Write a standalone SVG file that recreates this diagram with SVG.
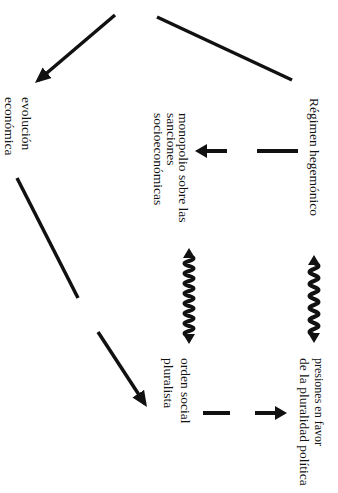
<svg xmlns="http://www.w3.org/2000/svg" width="338" height="493" viewBox="0 0 338 493">
<style>
.t{font-family:"Liberation Serif","Times New Roman",serif;font-size:13.5px;fill:#111}
.ln{stroke:#111;stroke-width:3.5;fill:none}
.dl{stroke:#111;stroke-width:4;fill:none}
.wv{stroke:#111;stroke-width:4;fill:none;stroke-linejoin:round}
.hd{fill:#111}
</style>
<defs>
<marker id="ah" viewBox="0 0 16 14" refX="12" refY="7" markerWidth="16" markerHeight="14" orient="auto" markerUnits="userSpaceOnUse"><path d="M0,0 L16,7 L0,14 z" fill="#111"/></marker>
<marker id="ah2" viewBox="0 0 12 14" refX="8" refY="7" markerWidth="12" markerHeight="14" orient="auto" markerUnits="userSpaceOnUse"><path d="M0,0 L12,7 L0,14 z" fill="#111"/></marker>
</defs>
<rect width="338" height="493" fill="#fff"/>
<g id="connectors">
<line class="ln" x1="115" y1="15" x2="38" y2="80.5" marker-end="url(#ah)"/>
<line class="ln" x1="157" y1="17" x2="292" y2="80"/>
<line class="ln" x1="17" y1="178" x2="78" y2="298"/>
<line class="ln" x1="98" y1="332" x2="144.8" y2="403.7" marker-end="url(#ah)"/>
<line class="dl" x1="298" y1="151" x2="257" y2="151"/>
<line class="dl" x1="227" y1="151" x2="199" y2="151" marker-end="url(#ah2)"/>
<line class="dl" x1="203" y1="413" x2="230" y2="413"/>
<line class="dl" x1="255" y1="413" x2="283" y2="413" marker-end="url(#ah2)"/>
<path class="wv" d="M189,256 q9,2.5 0,5 t0,5 t0,5 t0,5 t0,5 t0,5 t0,5 t0,5 t0,5 t0,5 t0,5 t0,5 t0,5 t0,5 t0,5 t0,5"/>
<polygon class="hd" points="189,248 183,258 195,258"/>
<polygon class="hd" points="189,344 183,334 195,334"/>
<path class="wv" d="M314,263 q9,3 0,6 t0,6 t0,6 t0,6 t0,6 t0,6 t0,6 t0,6 t0,6 t0,6 t0,6 t0,6"/>
<polygon class="hd" points="314,255 308,265 320,265"/>
<polygon class="hd" points="314,343 308,333 320,333"/>
</g>
<g id="evolucion">
<text class="t" transform="translate(22,97) rotate(90)"><tspan x="0" y="0">evolución</tspan><tspan x="0" y="17">económica</tspan></text>
</g>
<g id="regimen">
<text class="t" transform="translate(310,98) rotate(90)">Régimen hegemónico</text>
</g>
<g id="monopolio">
<text class="t" transform="translate(179,113) rotate(90)"><tspan x="0" y="0">monopolio sobre las</tspan><tspan x="0" y="12.5">sanciones</tspan><tspan x="0" y="25">socioeconómicas</tspan></text>
</g>
<g id="orden">
<text class="t" transform="translate(181,358) rotate(90)"><tspan x="0" y="0">orden social</tspan><tspan x="0" y="17">pluralista</tspan></text>
</g>
<g id="presiones">
<text class="t" transform="translate(315,358) rotate(90)"><tspan x="0" y="0" textLength="88" lengthAdjust="spacingAndGlyphs">presiones en favor</tspan><tspan x="0" y="15">de la pluralidad política</tspan></text>
</g>
</svg>
